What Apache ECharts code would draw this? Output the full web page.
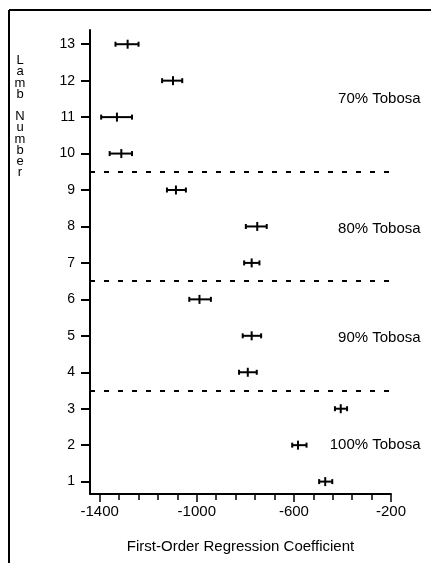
<!DOCTYPE html>
<html>
<head>
<meta charset="utf-8">
<script src="https://cdn.jsdelivr.net/npm/echarts@6/dist/echarts.min.js"></script>
<style>
html,body{margin:0;padding:0;background:#fff;}
#chart{width:431px;height:563px;}
</style>
</head>
<body>
<div id="chart"></div>
<script>
// Lamb numbers and first-order regression coefficients (centre, low, high of error bar)
const lambs   = [1, 2, 3, 4, 5, 6, 7, 8, 9, 10, 11, 12, 13];
const centers = [-471, -583, -407, -790, -774, -989, -774, -751, -1086, -1311, -1329, -1098, -1285];
const lows    = [-496, -607, -431, -826, -811, -1031, -805, -798, -1123, -1359, -1394, -1143, -1335];
const highs   = [-442, -548, -381, -753, -735, -942, -742, -712, -1045, -1267, -1267, -1060, -1240];

// Diet groups
const groupLabels = ['70% Tobosa', '80% Tobosa', '90% Tobosa', '100% Tobosa'];
const groupLabelY = [11.5, 7.93, 4.95, 2.0];
const groupLabelX = -78;   // right edge of label text, in axis units
const dividers = [9.5, 6.5, 3.5];

// Tick labels
const xMajorTicks = [-1400, -1000, -600, -200];
const xMinorTicks = [-1400, -1320, -1240, -1160, -1080, -1000, -920, -840, -760, -680, -600, -520, -440, -360, -280, -200];
const yTicks = lambs;

const FONT = 'Liberation Sans, Arial, Helvetica, sans-serif';
const chart = echarts.init(document.getElementById('chart'));

const data = lambs.map((l, i) => [l, lows[i], centers[i], highs[i]]);

const option = {
  backgroundColor: '#fff',
  animation: false,
  grid: { left: 90, right: 40, top: 30, bottom: 69, containLabel: false },
  xAxis: [{
    type: 'value', min: -1440, max: -200, position: 'bottom',
    axisLine: { show: true, lineStyle: { color: '#000', width: 2 } },
    axisTick: { show: true, length: 8, lineStyle: { color: '#000', width: 1.5 }, customValues: xMajorTicks },
    axisLabel: { show: true, customValues: xMajorTicks, formatter: v => String(v),
                 color: '#000', fontSize: 15, fontFamily: FONT, margin: 10 },
    splitLine: { show: false },
    name: 'First-Order Regression Coefficient', nameLocation: 'middle', nameGap: 45,
    nameTextStyle: { color: '#000', fontSize: 15, fontFamily: FONT }
  }, {
    type: 'value', min: -1440, max: -200, position: 'bottom',
    axisLine: { show: false },
    axisTick: { show: true, length: 6, lineStyle: { color: '#000', width: 1.5 }, customValues: xMinorTicks },
    axisLabel: { show: false },
    splitLine: { show: false }
  }],
  yAxis: {
    type: 'value', min: 0.66, max: 13.39,
    axisLine: { show: true, lineStyle: { color: '#000', width: 2 } },
    axisTick: { show: true, length: 9, lineStyle: { color: '#000', width: 2 }, customValues: yTicks },
    axisLabel: { show: true, customValues: yTicks, formatter: v => String(v),
                 color: '#000', fontSize: 14, fontFamily: FONT, margin: 15 },
    splitLine: { show: false }
  },
  series: [{
    type: 'custom',
    xAxisIndex: 0,
    data: data,
    encode: { x: [1, 2, 3], y: 0 },
    renderItem: function (params, api) {
      const y = api.value(0);
      const pL = api.coord([api.value(1), y]);
      const pC = api.coord([api.value(2), y]);
      const pH = api.coord([api.value(3), y]);
      const st = { stroke: '#000', lineWidth: 2 };
      return {
        type: 'group',
        children: [
          { type: 'line', shape: { x1: pL[0], y1: pL[1], x2: pH[0], y2: pH[1] }, style: st },
          { type: 'line', shape: { x1: pL[0], y1: pL[1] - 2.5, x2: pL[0], y2: pL[1] + 2.5 }, style: st },
          { type: 'line', shape: { x1: pH[0], y1: pH[1] - 2.5, x2: pH[0], y2: pH[1] + 2.5 }, style: st },
          { type: 'line', shape: { x1: pC[0], y1: pC[1] - 4.5, x2: pC[0], y2: pC[1] + 4.5 }, style: st }
        ]
      };
    },
    markLine: {
      silent: true, symbol: 'none', label: { show: false },
      lineStyle: { color: '#000', width: 2, type: [5, 9] },
      data: dividers.map(v => ({ yAxis: v }))
    }
  }]
};
chart.setOption(option);

// Annotations placed via the axes
const graphics = groupLabels.map((t, i) => {
  const p = chart.convertToPixel({ xAxisIndex: 0, yAxisIndex: 0 }, [groupLabelX, groupLabelY[i]]);
  return {
    type: 'text', x: p[0], y: p[1],
    style: { text: t, fill: '#000', font: '15px ' + FONT, align: 'right', verticalAlign: 'middle' }
  };
});
// Vertical y-axis title
graphics.push({
  type: 'text', x: 20, y: 55,
  style: { text: 'L\na\nm\nb\n\nN\nu\nm\nb\ne\nr', fill: '#000', font: '13px ' + FONT,
           align: 'center', verticalAlign: 'top', lineHeight: 11.2 }
});
// Frame (left and top edges of the scanned figure)
graphics.push({ type: 'line', shape: { x1: 9, y1: 10, x2: 431, y2: 10 }, style: { stroke: '#000', lineWidth: 2 } });
graphics.push({ type: 'line', shape: { x1: 9, y1: 10, x2: 9, y2: 563 }, style: { stroke: '#000', lineWidth: 2 } });
chart.setOption({ graphic: graphics });
</script>
</body>
</html>
